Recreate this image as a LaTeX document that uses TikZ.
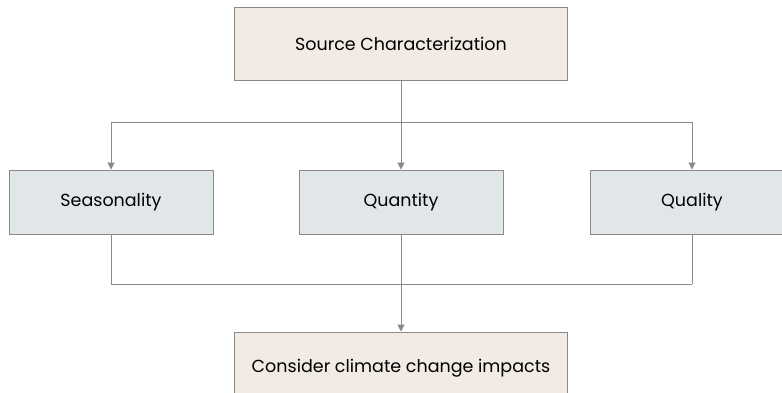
\documentclass[tikz,border=0pt]{standalone}
\usepackage{fontspec}
\setmainfont[Ligatures=NoCommon]{Poppins}
\usetikzlibrary{arrows.meta}
\definecolor{beige}{HTML}{F2EBE4}
\definecolor{paleblue}{HTML}{E1E7E9}
\definecolor{linegray}{HTML}{8A8A8A}

\begin{document}
\begin{tikzpicture}[x=1pt,y=-1pt,
  stagebox/.style={draw=linegray,line width=0.9pt,fill=beige,minimum width=333pt,minimum height=73pt,font=\fontsize{17.5}{21}\selectfont},
  factorbox/.style={stagebox,fill=paleblue,minimum width=204pt,minimum height=64pt},
  link/.style={draw=linegray,line width=0.9pt},
  arr/.style={link,-{Triangle[width=7pt,length=7pt]}}]
\useasboundingbox (0,0) rectangle (782,393);
\node[stagebox] (src) at (401,43.5) {Source Characterization};
\node[factorbox] (seas) at (111,202) {Seasonality};
\node[factorbox] (quan) at (401,202) {Quantity};
\node[factorbox] (qual) at (692,202) {Quality};
\node[stagebox] (clim) at (401,368.5) {Consider climate change impacts};
\coordinate (split) at (401,122);
\coordinate (join) at (401,284);
\draw[link] (src) -- (split);
\draw[link] (split -| seas) -- (split -| qual);
\foreach \to in {seas,quan,qual}
\draw[arr] (split -| \to) -- (\to);
\foreach \from in {seas,quan,qual}
\draw[link] (\from) -- (join -| \from);
\draw[link] (join -| seas) -- (join -| qual);
\draw[arr] (join) -- (clim); % merge into last step
\end{tikzpicture}
\end{document}
